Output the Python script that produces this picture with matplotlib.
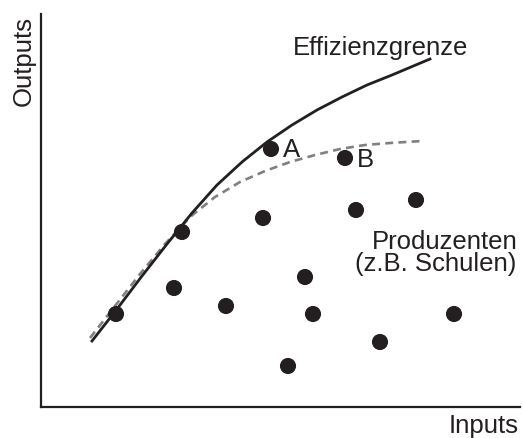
"""
Efficiency frontier sketch: producers (e.g. schools) as dots below the
frontier, with a dashed grey estimated frontier.
"""
import matplotlib
matplotlib.use("Agg")
import matplotlib.pyplot as plt

plt.rcParams["font.family"] = ["Liberation Sans", "DejaVu Sans"]

W, H = 523, 439
INK = "#231f20"
FS = 18.5

# --- data (inputs / outputs, arbitrary units) -------------------------------
prod_x = [230, 304, 141, 222, 315, 375, 75, 133, 185, 264, 272, 413, 339, 247]
prod_y = [258, 249, 175, 189, 197, 207, 93, 119, 101, 130, 93, 93, 65, 41]

frontier_x = [51, 76, 101, 126, 151, 176, 201, 226, 251, 276, 301, 326, 351, 389]
frontier_y = [66, 98, 131, 163, 194, 222, 245, 265, 282, 297, 310, 322, 332, 348]

estimate_x = [49, 74, 99, 124, 149, 174, 199, 224, 249, 274, 299, 324, 349, 381]
estimate_y = [69, 101, 133, 163, 190, 210, 225, 236, 245, 252, 258, 262, 264, 266]

# --- figure --------------------------------------------------------------------
fig = plt.figure(figsize=(W / 100, H / 100), dpi=100)
ax = fig.add_axes([41 / W, 31 / H, 479 / W, 393 / H])
ax.set_xlim(0, 479)
ax.set_ylim(0, 393)
for side in ("top", "right"):
    ax.spines[side].set_visible(False)
for side in ("left", "bottom"):
    ax.spines[side].set_linewidth(1.6)
    ax.spines[side].set_color(INK)
ax.set_xticks([])
ax.set_yticks([])

ax.plot(estimate_x, estimate_y, color="#808080", lw=1.9,
        dashes=(3.0, 2.0), solid_capstyle="butt", zorder=2)
ax.plot(frontier_x, frontier_y, color=INK, lw=2.0, zorder=3)
ax.scatter(prod_x, prod_y, s=135, color=INK, edgecolors="none", zorder=4)

ax.text(252, 353, "Effizienzgrenze", fontsize=FS, color=INK, va="baseline")
ax.text(242, 251, "A", fontsize=FS, color=INK, va="baseline")
ax.text(316, 241, "B", fontsize=FS, color=INK, va="baseline")
ax.text(331, 159, "Produzenten", fontsize=FS, color=INK, va="baseline")
ax.text(314, 137, "(z.B. Schulen)", fontsize=FS, color=INK, va="baseline")

fig.text(24 / W, 1 - 61.5 / H, "Outputs", fontsize=FS, color=INK,
         rotation=90, ha="center", va="center")
fig.text(519 / W, 1 - 433 / H, "Inputs", fontsize=FS, color=INK,
         ha="right", va="baseline")

fig.savefig("out.png", dpi=100)
